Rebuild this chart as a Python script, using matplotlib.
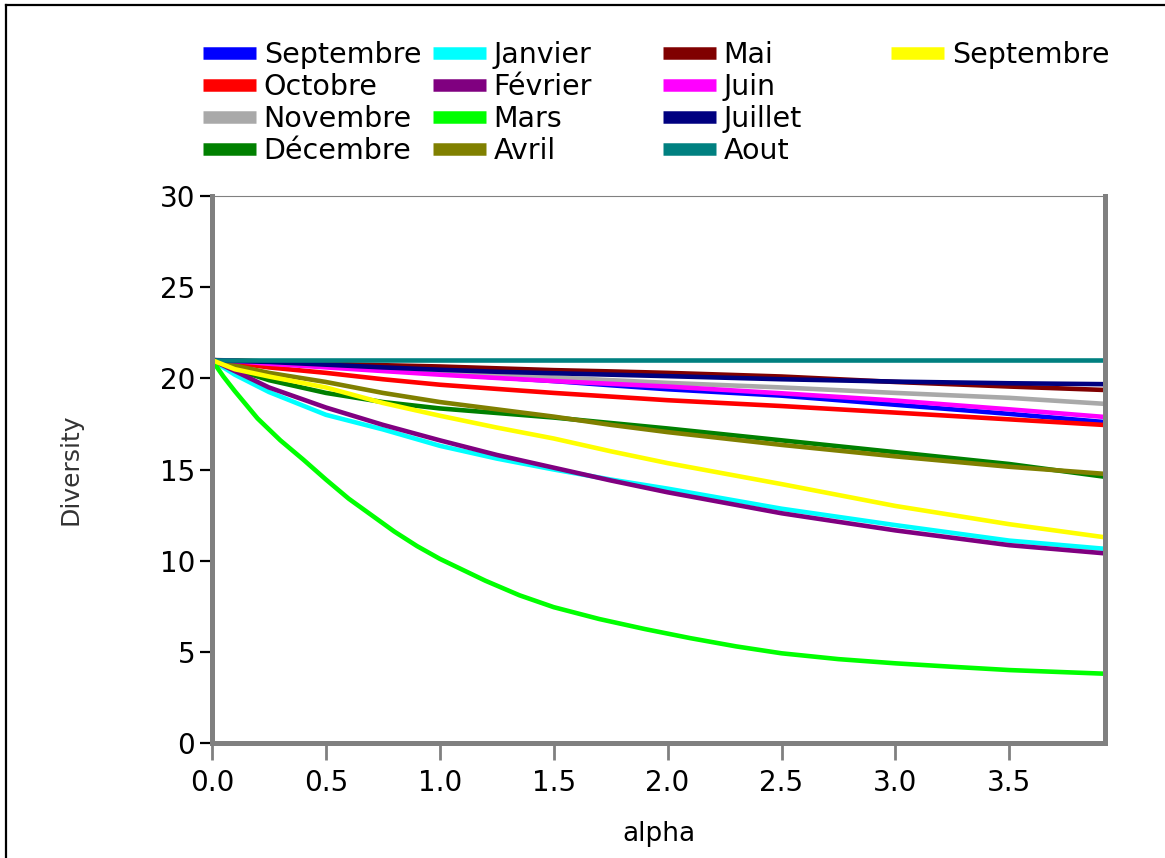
import matplotlib
matplotlib.use("Agg")
import matplotlib.pyplot as plt
from matplotlib.lines import Line2D

# Hill diversity profiles by month
alpha = [0, 0.1, 0.25, 0.5, 0.75, 1.0, 1.25, 1.5, 1.75, 2.0, 2.5, 3.0, 3.5, 3.92]
# Mars falls steeply, so it is sampled on a finer alpha grid
alpha_mars = [0, 0.05, 0.1, 0.2, 0.3, 0.4, 0.5, 0.6, 0.7, 0.8, 0.9, 1.0, 1.1, 1.2,
              1.35, 1.5, 1.7, 1.9, 2.1, 2.3, 2.5, 2.75, 3.0, 3.25, 3.5, 3.75, 3.92]

septembre = [21, 20.95, 20.85, 20.65, 20.45, 20.25, 20.05, 19.85, 19.62, 19.4, 19.05, 18.55, 18.05, 17.6]
octobre = [21, 20.85, 20.6, 20.3, 19.95, 19.65, 19.42, 19.2, 19.0, 18.8, 18.48, 18.12, 17.75, 17.44]
novembre = [21, 20.97, 20.9, 20.75, 20.6, 20.4, 20.22, 20.05, 19.9, 19.75, 19.5, 19.2, 18.93, 18.6]
decembre = [21, 20.5, 19.9, 19.2, 18.7, 18.35, 18.1, 17.85, 17.55, 17.25, 16.6, 15.95, 15.3, 14.6]
janvier = [21, 20.2, 19.25, 18.0, 17.2, 16.3, 15.6, 15.0, 14.45, 13.95, 12.85, 11.95, 11.1, 10.65]
fevrier = [21, 20.4, 19.5, 18.4, 17.45, 16.6, 15.8, 15.1, 14.4, 13.75, 12.6, 11.66, 10.85, 10.4]
mars = [21, 20.1, 19.3, 17.8, 16.6, 15.55, 14.45, 13.4, 12.5, 11.6, 10.8, 10.1, 9.5, 8.9,
        8.1, 7.45, 6.8, 6.25, 5.75, 5.3, 4.92, 4.6, 4.37, 4.18, 4.0, 3.88, 3.8]
avril = [21, 20.7, 20.3, 19.8, 19.2, 18.7, 18.3, 17.9, 17.45, 17.05, 16.35, 15.72, 15.15, 14.76]
mai = [21, 20.98, 20.92, 20.8, 20.72, 20.65, 20.55, 20.45, 20.38, 20.3, 20.1, 19.8, 19.55, 19.36]
juin = [21, 20.95, 20.8, 20.6, 20.4, 20.2, 20.02, 19.85, 19.7, 19.55, 19.18, 18.78, 18.3, 17.88]
juillet = [21, 20.95, 20.9, 20.75, 20.6, 20.47, 20.36, 20.28, 20.2, 20.12, 19.95, 19.82, 19.73, 19.68]
aout = [21, 21, 21, 21, 21, 21, 21, 21, 21, 21, 21, 21, 21, 21]
septembre2 = [21, 20.5, 20.1, 19.5, 18.65, 17.95, 17.3, 16.7, 16.0, 15.35, 14.2, 13.0, 12.0, 11.28]

labels = ["Septembre", "Octobre", "Novembre", "Décembre", "Janvier", "Février",
          "Mars", "Avril", "Mai", "Juin", "Juillet", "Aout", "Septembre"]
series = [septembre, octobre, novembre, decembre, janvier, fevrier,
          mars, avril, mai, juin, juillet, aout, septembre2]
colors = ["#0000FF", "#FF0000", "#A9A9A9", "#008000", "#00FFFF", "#800080",
          "#00FF00", "#808000", "#800000", "#FF00FF", "#000080", "#008080", "#FFFF00"]

xticks = [0.0, 0.5, 1.0, 1.5, 2.0, 2.5, 3.0, 3.5]
yticks = [0, 5, 10, 15, 20, 25, 30]

plt.rcParams["font.family"] = ["DejaVu Sans"]

W, H = 1165, 858
fig = plt.figure(figsize=(W / 100, H / 100), dpi=100)
ax = fig.add_axes([212 / W, 1 - 743 / H, (1105 - 212) / W, (743 - 196) / H])

for vals, lab, col in zip(series, labels, colors):
    xs = alpha_mars if vals is mars else alpha
    ax.plot(xs, vals, color=col, lw=3.3, label=lab, solid_capstyle="butt")

ax.set_xlim(0, 3.92)
ax.set_ylim(0, 30)
ax.set_xticks(xticks)
ax.set_xticklabels([f"{t:.1f}" for t in xticks])
ax.set_yticks(yticks)

for side in ["left", "bottom", "right"]:
    ax.spines[side].set_color("#808080")
    ax.spines[side].set_linewidth(3.6)
ax.spines["top"].set_color("#808080")
ax.spines["top"].set_linewidth(0.8)

ax.tick_params(axis="y", direction="out", length=9, width=1.6, color="black",
               labelsize=20, pad=3, labelcolor="black")
ax.tick_params(axis="x", direction="out", length=12, width=2.0, color="#808080",
               labelsize=20, pad=7, labelcolor="black")

ax.set_xlabel("alpha", fontsize=19, labelpad=17)
ax.set_ylabel("Diversity", fontsize=18, labelpad=56, color="#333333")

# Legend laid out in four fixed-width columns
col_x = [203, 433, 663, 891]
groups = [[0, 1, 2, 3], [4, 5, 6, 7], [8, 9, 10, 11], [12]]
for cx, idx in zip(col_x, groups):
    hs = [Line2D([], [], color=colors[i], lw=9, solid_capstyle="butt") for i in idx]
    fig.legend(hs, [labels[i] for i in idx], loc="upper left",
               bbox_to_anchor=(cx / W, 1 - 41 / H), frameon=False,
               fontsize=20.5, handlelength=1.85, handletextpad=0.28,
               labelspacing=0.14, borderpad=0, borderaxespad=0)

# Frame lines along the left and top edges
fig.add_artist(Line2D([6 / W, 6 / W], [0, 1 - 5 / H], transform=fig.transFigure,
                      color="black", lw=1.6))
fig.add_artist(Line2D([6 / W, 1], [1 - 5 / H, 1 - 5 / H], transform=fig.transFigure,
                      color="black", lw=1.6))

fig.savefig("out.png", dpi=100, facecolor="white")
